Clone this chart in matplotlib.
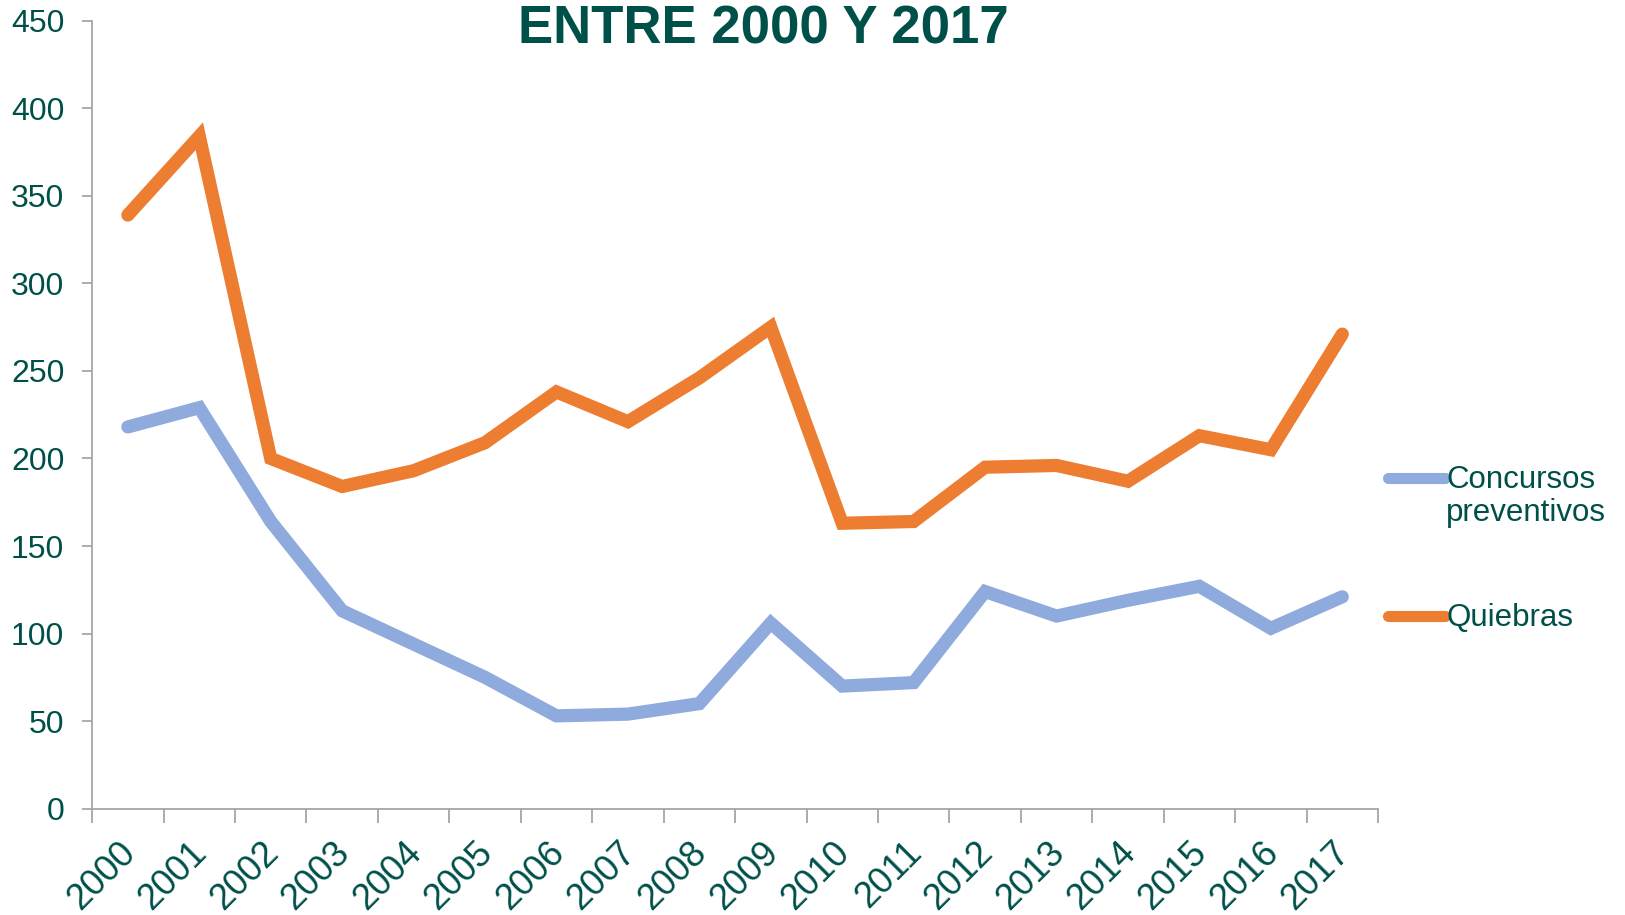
import matplotlib.pyplot as plt
import matplotlib.transforms as mtransforms
import numpy as np
from matplotlib.lines import Line2D

plt.rcParams['font.family'] = ['Liberation Sans', 'DejaVu Sans']

# ---- data ----
years = [str(y) for y in range(2000, 2018)]
concursos = [218, 229, 164, 113, 94, 75, 53, 54, 60, 106, 70, 72, 124, 110, 119, 127, 103, 121]
quiebras = [339, 384, 200, 184, 193, 209, 238, 221, 246, 275, 163, 164, 195, 196, 187, 213, 205, 271]
series_names = ["Concursos\npreventivos", "Quiebras"]
title = "ENTRE 2000 Y 2017"

TEXT = "#00504A"
AXIS = "#A6A6A6"
BLUE = "#8FAADC"
ORANGE = "#ED7D31"

fig = plt.figure(figsize=(16.25, 9.15), dpi=100)
ax = fig.add_axes([0.0567, 0.1162, 0.7913, 0.8612])

x = np.arange(len(years))
for vals, color in [(concursos, BLUE), (quiebras, ORANGE)]:
    ax.plot(x, vals, color=color, lw=9.5, solid_capstyle="round", solid_joinstyle="miter")

ax.set_xlim(-0.5, len(years) - 0.5)
ax.set_ylim(0, 450)
ax.set_yticks(np.arange(0, 451, 50))

ax.set_xticks(x)
ax.set_xticklabels(years, rotation=45, ha="right", va="top", rotation_mode="anchor")
ax.set_xticks(np.arange(-0.5, len(years), 1), minor=True)
ax.tick_params(axis="x", which="major", length=0, pad=19, labelsize=26, labelcolor=TEXT)
ax.tick_params(axis="x", which="minor", length=10, width=1.3, color=AXIS, direction="out")
ax.tick_params(axis="y", length=7, width=1.3, color=AXIS, pad=13, labelsize=23, labelcolor=TEXT)

# nudge rotated year labels a little to the left of the category centre
offset = mtransforms.ScaledTranslation(-10 / 100, 0, fig.dpi_scale_trans)
for lbl in ax.get_xticklabels():
    lbl.set_transform(lbl.get_transform() + offset)

for side in ["top", "right"]:
    ax.spines[side].set_visible(False)
for side in ["left", "bottom"]:
    ax.spines[side].set_color(AXIS)
    ax.spines[side].set_linewidth(1.3)

# legend drawn by hand so the handle lines up with the first text line
leg_y = [0.4197, 0.2446]
for name, color, yy in zip(series_names, [BLUE, ORANGE], leg_y):
    ax.add_line(Line2D([1.008, 1.052], [yy, yy], transform=ax.transAxes, color=color,
                       lw=8, solid_capstyle="round", clip_on=False))
    ax.text(1.053, yy + 0.017, name, transform=ax.transAxes, fontsize=22.5, color=TEXT,
            ha="left", va="top", linespacing=1.15)

fig.text(0.4697, 0.953, title, ha="center", va="baseline", fontsize=38,
         fontweight="bold", color=TEXT)

fig.savefig("out.png", dpi=100)
